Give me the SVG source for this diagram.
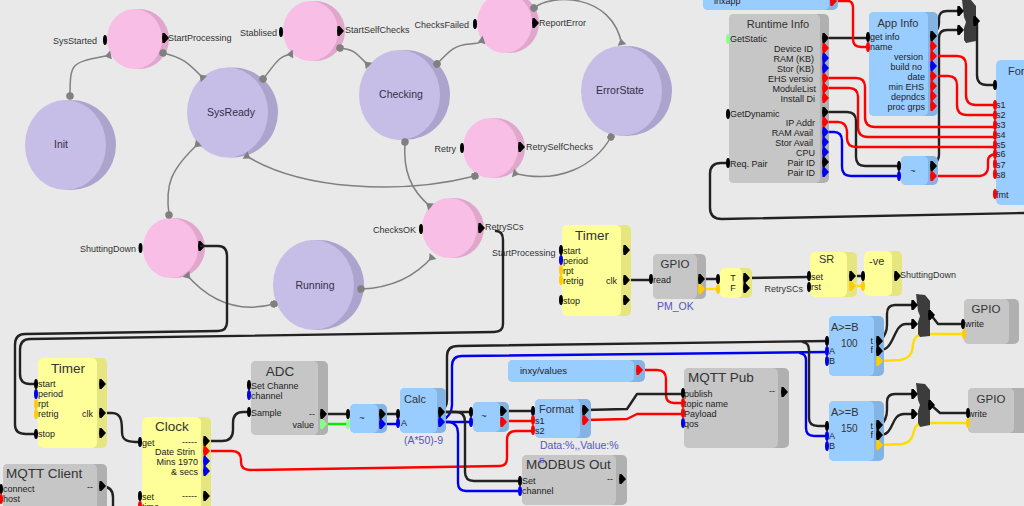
<svg xmlns="http://www.w3.org/2000/svg" xmlns:xlink="http://www.w3.org/1999/xlink" width="1024" height="506" viewBox="0 0 1024 506">
<defs>
<marker id="ball" viewBox="0 0 8 8" refX="4" refY="4" markerWidth="5" markerHeight="5" orient="auto"><circle cx="4" cy="4" r="4" fill="#808080"/></marker>
<marker id="tee" viewBox="0 0 10 10" refX="9" refY="5" markerWidth="6" markerHeight="6" orient="auto"><path d="M2 5L9 0V10Z" fill="#808080"/></marker>
<path id="o" d="M-2.5-5H-.5L4 0L-.5 5H-2.5Q-3.5 0-2.5-5Z"/>
<ellipse id="i" rx="2" ry="5"/>
</defs>
<style>
text{font-family:"Liberation Sans",Arial,sans-serif;fill:#333}
.s{font-size:9px}.t{font-size:13.5px}.m{font-size:11px}.n{font-size:9px;fill:#222}
.x{font-size:10.5px;text-anchor:middle;fill:#332f4a}
.e{text-anchor:end}.c{text-anchor:middle}.b{fill:#5555bb;font-size:10.5px}
.st{fill:none;stroke:#808080;stroke-width:1.5;marker-start:url(#ball);marker-end:url(#tee)}
.w{fill:none;stroke-width:2.4;stroke-linecap:round;stroke-linejoin:round}
.k{stroke:#222}.r{stroke:#f00}.u{stroke:#00e}.y{stroke:#fd0}.g{stroke:#0e0}
.p0{fill:#000}.pr{fill:#f00}.pu{fill:#00e}.py{fill:#fc0}.pg{fill:#8f8}
.bs{fill:#84b4e4}.bf{fill:#9cf}.gs{fill:#b0b0b0}.gf{fill:#c6c6c6}.ys{fill:#e6e680}.yf{fill:#ff9}
.ps{fill:#e0a6cc}.pf{fill:#f8bee6}.ls{fill:#aca4cd}.lf{fill:#c6bee6}
</style>
<rect width="1024" height="506" fill="#e9e9e9"/>
<g id="init"><circle class="ls" cx="71" cy="145" r="45"/><ellipse class="lf" cx="65.500" cy="145" rx="40.500" ry="45"/><text class="x" x="61" y="148">Init</text></g>
<g id="sysready"><circle class="ls" cx="233" cy="112.500" r="45"/><ellipse class="lf" cx="227.500" cy="112.500" rx="40.500" ry="45"/><text class="x" x="231" y="116">SysReady</text></g>
<g id="checking"><circle class="ls" cx="405" cy="95" r="45"/><ellipse class="lf" cx="399.500" cy="95" rx="40.500" ry="45"/><text class="x" x="401" y="98">Checking</text></g>
<g id="errorstate"><circle class="ls" cx="627" cy="91" r="45"/><ellipse class="lf" cx="621.500" cy="91" rx="40.500" ry="45"/><text class="x" x="620" y="94">ErrorState</text></g>
<g id="running"><circle class="ls" cx="319" cy="285" r="45"/><ellipse class="lf" cx="313.500" cy="285" rx="40.500" ry="45"/><text class="x" x="315" y="289">Running</text></g>
<g id="s1"><circle class="ps" cx="139" cy="39" r="30"/><ellipse class="pf" cx="134.500" cy="39" rx="27.500" ry="30"/><use href="#i" class="p0" x="105" y="40"/><use href="#o" class="p0" x="165" y="38"/><text class="s e" x="97" y="44">SysStarted</text><text class="s" x="168" y="41">StartProcessing</text></g>
<g id="s2"><circle class="ps" cx="315" cy="31" r="30"/><ellipse class="pf" cx="310.500" cy="31" rx="27.500" ry="30"/><use href="#i" class="p0" x="281" y="32"/><use href="#o" class="p0" x="340" y="31"/><text class="s e" x="277" y="36">Stablised</text><text class="s" x="345" y="33">StartSelfChecks</text></g>
<g id="s3"><circle class="ps" cx="509" cy="23" r="30"/><ellipse class="pf" cx="504.500" cy="23" rx="27.500" ry="30"/><use href="#i" class="p0" x="475" y="24"/><use href="#o" class="p0" x="535" y="23"/><text class="s e" x="469" y="28">ChecksFailed</text><text class="s" x="539" y="26">ReportError</text></g>
<g id="s4"><circle class="ps" cx="495" cy="148" r="30"/><ellipse class="pf" cx="490.500" cy="148" rx="27.500" ry="30"/><use href="#i" class="p0" x="462" y="148"/><use href="#o" class="p0" x="521" y="147"/><text class="s e" x="456" y="152">Retry</text><text class="s" x="526" y="150">RetrySelfChecks</text></g>
<g id="s5"><circle class="ps" cx="175" cy="248" r="30"/><ellipse class="pf" cx="170.500" cy="248" rx="27.500" ry="30"/><use href="#i" class="p0" x="140.500" y="248"/><use href="#o" class="p0" x="201" y="246"/><text class="s e" x="136" y="252">ShuttingDown</text></g>
<g id="s6"><circle class="ps" cx="454" cy="228" r="30"/><ellipse class="pf" cx="449.500" cy="228" rx="27.500" ry="30"/><use href="#i" class="p0" x="421" y="229"/><use href="#o" class="p0" x="481" y="228"/><text class="s e" x="416" y="233">ChecksOK</text><text class="s" x="485" y="230">RetrySCs</text><text class="s" x="492" y="256">StartProcessing</text></g>
<g id="state-connectors">
<path class="st" d="M70 96C70 60 72 63 111 55"/>
<path class="st" d="M163 53C185 58 190 65 204 79"/>
<path class="st" d="M263 79C275 65 278 55 293 54"/>
<path class="st" d="M340 48C355 50 355 52 369 66"/>
<path class="st" d="M437 64C450 50 455 45 470 44S478 42 484 40"/>
<path class="st" d="M534 8C550-6 612-8 622 45"/>
<path class="st" d="M611 137C595 165 560 185 513 173"/>
<path class="st" d="M475 176C400 195 300 190 245 155"/>
<path class="st" d="M405 142C403 170 410 190 431 207"/>
<path class="st" d="M361 289C390 288 415 277 433 256"/>
<path class="st" d="M274 304C240 313 210 302 186 274"/>
<path class="st" d="M169 215C165 185 170 170 199 143"/>
</g>
<g id="connectors">
<path class="w k" d="M201 246H218Q227 246 227 256V322Q227 331 218 331L25 334Q15 334 15 345V425Q15 434 26 434H36"/>
<path class="w k" d="M496 231Q503 231 503 240V324Q503 332 494 332L30 339Q20 339 20 350V374Q20 384 30 384H36"/>
<path class="w k" d="M102 413H112C122 413 122 423 122 432C122 441 128 442 140 442"/>
<path class="w k" d="M102 486Q113 487 113 497V506"/>
<path class="w k" d="M206 441H222Q233 441 233 430V423Q233 412 243 412H249"/>
<path class="w r" d="M206 451H232Q241 451 241 460V462Q241 470 250 470L500 466Q507 466 507 458V440Q507 431 516 431H533"/>
<path class="w k" d="M323 414H348"/><path class="w g" d="M323 424H348"/>
<path class="w k" d="M382 414H398"/><path class="w u" d="M382 424H398"/>
<path class="w k" d="M441 412H470"/><path class="w u" d="M441 422H470"/>
<path class="w k" d="M503 411H533"/><path class="w r" d="M503 421H533"/>
<path class="w k" d="M441 412Q447 407 447 400V356Q447 346 458 346L827 341"/>
<path class="w u" d="M441 422Q452 415 452 405V366Q452 356 462 356L827 352"/>
<path class="w k" d="M803 342Q809 343 809 350V418Q809 426 818 426H827"/>
<path class="w u" d="M800 353Q806 354 806 360V428Q806 436 814 436H827"/>
<path class="w k" d="M441 412H456Q465 412 465 422V472Q465 481 474 481H520"/>
<path class="w u" d="M441 422H450Q458 424 458 433V483Q458 491 466 491H520"/>
<path class="w r" d="M639 370H657Q666 370 666 379V395Q666 403 674 403H683"/>
<path class="w k" d="M585 410L627 409L637 394H683"/>
<path class="w r" d="M585 420L627 419L637 414H683"/>
<path class="w k" d="M626 280H651"/>
<path class="w k" d="M701 279H718"/><path class="w y" d="M701 289H718"/>
<path class="w k" d="M746 278L809 277"/>
<path class="w k" d="M852 276H863"/><path class="w y" d="M852 286H863"/>
<path class="w k" d="M880 341Q887 334 887 325V314Q887 305 895 305H913"/>
<path class="w k" d="M880 350C895 350 893 324 906 324H913"/>
<path class="w y" d="M879 361L900 360C912 358 913 350 913 344C914 338 918 334 924 334H964"/>
<path class="w k" d="M931 315L938 324H963"/>
<path class="w k" d="M880 426Q887 420 887 410V402Q887 394 895 394H913"/>
<path class="w k" d="M880 435C895 435 890 414 904 414H913"/>
<path class="w y" d="M879 445L902 444C912 442 913 435 914 431C915 426 918 423 924 423H968"/>
<path class="w k" d="M931 405L940 413H968"/>
<path class="w k" d="M825 38H868"/>
<path class="w r" d="M834 1H848Q853 1 853 8V39Q853 47 861 47H868"/>
<path class="w k" d="M933 35Q939 29 939 23V19Q939 11 947 11H960"/>
<path class="w k" d="M933 166Q939 160 939 155V38Q939 30 947 30H960"/>
<path class="w k" d="M977 22V75Q977 85 987 85H995"/>
<path class="w r" d="M933 56H957Q966 56 966 65V95Q966 105 976 105H995"/>
<path class="w r" d="M933 76H948Q957 76 957 85V105Q957 115 967 115H995"/>
<path class="w r" d="M825 78H856Q865 78 865 87V117Q865 127 875 127H995"/>
<path class="w r" d="M825 88H849Q858 88 858 97V127Q858 137 868 137H995"/>
<path class="w k" d="M825 112H847Q856 112 856 121V157Q856 166 865 166H900"/>
<path class="w r" d="M825 122H838Q846 122 847 131V138Q847 147 856 147H995"/>
<path class="w u" d="M825 132H834Q842 132 842 141V167Q842 176 851 176H900"/>
<path class="w r" d="M933 176H980Q988 175 988 167V161Q988 155 995 154"/>
<path class="w k" d="M728 163H721Q710 163 710 174V208Q710 219 722 219L1024 213"/>
</g>
<g id="timer1"><rect class="ys" x="562" y="225" width="69" height="91" rx="5"/><rect class="yf" x="562" y="225" width="59" height="91" rx="5"/><text class="t c" x="592" y="240">Timer</text><text class="n" x="563" y="254">start</text><text class="n" x="563" y="264">period</text><text class="n" x="563" y="274">rpt</text><text class="n" x="563" y="284">retrig</text><text class="n e" x="617" y="284">clk</text><text class="n" x="563" y="304">stop</text><use href="#i" class="p0" x="561" y="250"/><use href="#i" class="pu" x="561" y="260"/><use href="#i" class="py" x="561" y="270"/><use href="#i" class="py" x="561" y="280"/><use href="#i" class="p0" x="561" y="300"/><use href="#o" class="p0" x="626" y="250"/><use href="#o" class="p0" x="626" y="280"/><use href="#o" class="p0" x="626" y="300"/></g>
<g id="timer2"><rect class="ys" x="38" y="358" width="69" height="90" rx="5"/><rect class="yf" x="38" y="358" width="59" height="90" rx="5"/><text class="t c" x="68" y="373">Timer</text><text class="n" x="38" y="387">start</text><text class="n" x="38" y="397">period</text><text class="n" x="38" y="407">rpt</text><text class="n" x="38" y="417">retrig</text><text class="n e" x="93" y="417">clk</text><text class="n" x="38" y="437">stop</text><use href="#i" class="p0" x="36" y="384"/><use href="#i" class="pu" x="36" y="394"/><use href="#i" class="py" x="36" y="404"/><use href="#i" class="py" x="36" y="414"/><use href="#i" class="p0" x="36" y="434"/><use href="#o" class="p0" x="102" y="384"/><use href="#o" class="p0" x="102" y="413"/><use href="#o" class="p0" x="102" y="433"/></g>
<g id="clock"><rect class="ys" x="142" y="417" width="69" height="95" rx="5"/><rect class="yf" x="142" y="417" width="59" height="95" rx="5"/><text class="t c" x="172" y="431">Clock</text><text class="n" x="142" y="446">get</text><text class="n e" x="197" y="445">-----</text><text class="n e" x="195" y="455">Date Strin</text><text class="n e" x="198" y="465">Mins 1970</text><text class="n e" x="198" y="475">&amp; secs</text><text class="n" x="142" y="500">set</text><text class="n" x="142" y="510">time</text><text class="n e" x="197" y="499">-----</text><use href="#i" class="p0" x="140" y="442"/><use href="#i" class="p0" x="140" y="496"/><use href="#i" class="pr" x="140" y="506"/><use href="#o" class="p0" x="206" y="441"/><use href="#o" class="pr" x="206" y="451"/><use href="#o" class="pu" x="206" y="461"/><use href="#o" class="pu" x="206" y="471"/><use href="#o" class="p0" x="206" y="496"/></g>
<g id="mqttclient"><rect class="gs" x="3" y="464" width="104" height="48" rx="5"/><rect class="gf" x="3" y="464" width="94" height="48" rx="5"/><text class="t" x="6" y="478">MQTT Client</text><text class="n" x="3" y="492">connect</text><text class="n" x="3" y="502">host</text><text class="n e" x="93" y="490">--</text><use href="#i" class="p0" x="1" y="489"/><use href="#i" class="pr" x="1" y="499"/><use href="#o" class="p0" x="102" y="486"/></g>
<g id="adc"><rect class="gs" x="251" y="361" width="77" height="74" rx="5"/><rect class="gf" x="251" y="361" width="67" height="74" rx="5"/><text class="t c" x="280" y="376">ADC</text><text class="n" x="251" y="389">Set Channe</text><text class="n" x="251" y="399">channel</text><text class="n" x="251" y="416">Sample</text><text class="n e" x="315" y="417">--</text><text class="n e" x="314" y="428">value</text><use href="#i" class="p0" x="249" y="385"/><use href="#i" class="pu" x="249" y="395"/><use href="#i" class="p0" x="249" y="412"/><use href="#o" class="p0" x="323" y="414"/><use href="#o" class="pg" x="323" y="424"/></g>
<g id="t1"><rect class="bs" x="350" y="404" width="37" height="29" rx="5"/><rect class="bf" x="350" y="404" width="28" height="29" rx="5"/><text class="n c" x="362" y="421">~</text><use href="#i" class="p0" x="348" y="414"/><use href="#i" class="pg" x="348" y="424"/><use href="#o" class="p0" x="382" y="414"/><use href="#o" class="pu" x="382" y="424"/></g>
<g id="calc"><rect class="bs" x="400" y="388" width="46" height="45" rx="5"/><rect class="bf" x="400" y="388" width="37" height="45" rx="5"/><text class="m" x="404" y="403">Calc</text><text class="n" x="401" y="426">A</text><text class="b" x="404" y="444">(A*50)-9</text><use href="#i" class="p0" x="398" y="414"/><use href="#i" class="pu" x="398" y="423"/><use href="#o" class="p0" x="441" y="412"/><use href="#o" class="pu" x="441" y="422"/></g>
<g id="t2"><rect class="bs" x="473" y="402" width="36" height="30" rx="5"/><rect class="bf" x="473" y="402" width="27" height="30" rx="5"/><text class="n c" x="484" y="419">~</text><use href="#i" class="p0" x="471" y="412"/><use href="#i" class="pu" x="471" y="422"/><use href="#o" class="p0" x="503" y="411"/><use href="#o" class="pr" x="503" y="422"/></g>
<g id="format"><rect class="bs" x="535" y="399" width="56" height="39" rx="5"/><rect class="bf" x="535" y="399" width="45" height="39" rx="5"/><text class="m" x="539" y="413">Format</text><text class="n" x="535" y="424">s1</text><text class="n" x="535" y="434">s2</text><text class="b" x="540" y="449">Data:%,,Value:%</text><use href="#i" class="p0" x="533" y="411"/><use href="#i" class="pr" x="533" y="420"/><use href="#i" class="pr" x="533" y="430"/><use href="#o" class="p0" x="585" y="410"/><use href="#o" class="pr" x="585" y="420"/></g>
<g id="inxy"><rect class="bs" x="508" y="360" width="137" height="22" rx="5"/><rect class="bf" x="508" y="360" width="126" height="22" rx="5"/><text class="n" x="520" y="374" style="font-size:9.500px">inxy/values</text><use href="#o" class="pr" x="639" y="370"/></g>
<g id="mqttpub"><rect class="gs" x="684" y="368" width="105" height="80" rx="5"/><rect class="gf" x="684" y="368" width="94" height="80" rx="5"/><text class="t" x="688" y="382">MQTT Pub</text><text class="n" x="684" y="397">publish</text><text class="n" x="684" y="407">topic name</text><text class="n" x="684" y="417">Payload</text><text class="n" x="684" y="427">qos</text><text class="n e" x="775" y="394">--</text><use href="#i" class="p0" x="683" y="393"/><use href="#i" class="pr" x="683" y="403"/><use href="#i" class="pr" x="683" y="413"/><use href="#i" class="pu" x="683" y="423"/><use href="#o" class="p0" x="784" y="392"/></g>
<g id="modbus"><rect class="gs" x="522" y="455" width="105" height="50" rx="5"/><rect class="gf" x="522" y="455" width="94" height="50" rx="5"/><text class="t" x="526" y="469">MODBUS Out</text><text class="b" x="539" y="463" style="font-size:8px">S</text><text class="n" x="522" y="484">Set</text><text class="n" x="522" y="494">channel</text><text class="n e" x="613" y="482">--</text><use href="#i" class="p0" x="520" y="481"/><use href="#i" class="pu" x="520" y="491"/><use href="#o" class="p0" x="622" y="479"/></g>
<g id="gpio1"><rect class="gs" x="653" y="254" width="53" height="45" rx="5"/><rect class="gf" x="653" y="254" width="44" height="45" rx="5"/><text class="m c" x="675" y="268" style="font-size:11.500px">GPIO</text><text class="n" x="653" y="283">read</text><text class="b" x="657" y="310">PM_OK</text><use href="#i" class="p0" x="651" y="279"/><use href="#o" class="p0" x="701" y="279"/><use href="#o" class="py" x="701" y="289"/></g>
<g id="tf"><rect class="ys" x="720" y="268" width="32" height="30" rx="5"/><rect class="yf" x="720" y="268" width="22" height="30" rx="5"/><text class="n c" x="733" y="281">T</text><text class="n c" x="733" y="291">F</text><use href="#i" class="p0" x="718" y="279"/><use href="#i" class="py" x="718" y="289"/><use href="#o" class="p0" x="746" y="278"/><use href="#o" class="p0" x="746" y="288"/></g>
<g id="sr"><rect class="ys" x="810" y="252" width="47" height="45" rx="5"/><rect class="yf" x="810" y="252" width="37" height="45" rx="5"/><text class="m" x="819" y="263">SR</text><text class="n" x="811" y="280">set</text><text class="n" x="811" y="290">rst</text><text class="s e" x="803" y="292">RetrySCs</text><use href="#i" class="p0" x="809" y="276"/><use href="#i" class="p0" x="809" y="287"/><use href="#o" class="p0" x="852" y="276"/><use href="#o" class="py" x="852" y="286"/></g>
<g id="neg"><rect class="ys" x="864" y="251" width="38" height="45" rx="5"/><rect class="yf" x="864" y="251" width="28" height="45" rx="5"/><text class="m" x="869" y="265">-ve</text><text class="s" x="900" y="278">ShuttingDown</text><use href="#i" class="p0" x="863" y="276"/><use href="#i" class="py" x="863" y="286"/><use href="#o" class="p0" x="897" y="276"/></g>
<g id="cmp1"><rect class="bs" x="829" y="316" width="55" height="60" rx="5"/><rect class="bf" x="829" y="316" width="45" height="60" rx="5"/><text class="m" x="831" y="331">A&gt;=B</text><text class="m" x="841" y="347" style="font-size:10px">100</text><text class="n" x="829" y="354">A</text><text class="n" x="829" y="364">B</text><text class="n e" x="873" y="344">t</text><text class="n e" x="873" y="353">f</text><use href="#i" class="p0" x="827" y="341"/><use href="#i" class="pu" x="827" y="351"/><use href="#i" class="pu" x="827" y="361"/><use href="#o" class="p0" x="879" y="341"/><use href="#o" class="p0" x="879" y="351"/><use href="#o" class="py" x="879" y="361"/></g>
<g id="cmp2"><rect class="bs" x="829" y="401" width="55" height="60" rx="5"/><rect class="bf" x="829" y="401" width="45" height="60" rx="5"/><text class="m" x="831" y="416">A&gt;=B</text><text class="m" x="841" y="432" style="font-size:10px">150</text><text class="n" x="829" y="439">A</text><text class="n" x="829" y="449">B</text><text class="n e" x="873" y="429">t</text><text class="n e" x="873" y="438">f</text><use href="#i" class="p0" x="827" y="426"/><use href="#i" class="pu" x="827" y="436"/><use href="#i" class="pu" x="827" y="446"/><use href="#o" class="p0" x="879" y="425"/><use href="#o" class="p0" x="879" y="435"/><use href="#o" class="py" x="879" y="445"/></g>
<g id="mux1"><path d="M916 294L925 295L930 301V336L920 337L918 334V322L920 316L918 311Z" fill="#3c3c3c"/><use href="#o" class="p0" x="914" y="305"/><use href="#o" class="p0" x="914" y="324"/><use href="#o" class="p0" x="931" y="315"/></g>
<g id="mux2"><path d="M916 383L925 384L930 390V425L920 427L918 423V411L920 405L918 400Z" fill="#3c3c3c"/><use href="#o" class="p0" x="914" y="394"/><use href="#o" class="p0" x="914" y="414"/><use href="#o" class="p0" x="931" y="405"/></g>
<g id="mux3"><path d="M962 0H971L976 6V41L966 43L964 40V28L966 22L964 17Z" fill="#3c3c3c"/><use href="#o" class="p0" x="960" y="11"/><use href="#o" class="p0" x="960" y="30"/><use href="#o" class="p0" x="976" y="21"/></g>
<g id="gpio2"><rect class="gs" x="964" y="299" width="55" height="45" rx="5"/><rect class="gf" x="964" y="299" width="45" height="45" rx="5"/><text class="m c" x="986" y="313" style="font-size:11.500px">GPIO</text><text class="n" x="965" y="327">write</text><use href="#i" class="p0" x="963" y="324"/><use href="#i" class="py" x="964" y="334"/></g>
<g id="gpio3"><rect class="gs" x="968" y="388" width="60" height="45" rx="5"/><rect class="gf" x="968" y="388" width="46" height="45" rx="5"/><text class="m c" x="991" y="403" style="font-size:11.500px">GPIO</text><text class="n" x="968" y="417">write</text><use href="#i" class="p0" x="968" y="413"/><use href="#i" class="py" x="968" y="423"/></g>
<g id="inxapp"><rect class="bs" x="703" y="-20" width="135" height="30" rx="5"/><rect class="bf" x="703" y="-20" width="126" height="30" rx="5"/><text class="n" x="714" y="4">inxapp</text><use href="#o" class="pr" x="833" y="1"/></g>
<g id="runtime"><rect class="gs" x="729" y="14" width="100" height="169" rx="5"/><rect class="gf" x="729" y="14" width="91" height="169" rx="5"/><text class="m c" x="778" y="28">Runtime Info</text><text class="n" x="730" y="42">GetStatic</text><text class="n e" x="813" y="52">Device ID</text><text class="n e" x="814" y="62">RAM (KB)</text><text class="n e" x="814" y="72">Stor (KB)</text><text class="n e" x="813" y="82">EHS versio</text><text class="n e" x="816" y="92">ModuleList</text><text class="n e" x="815" y="102">Install Di</text><text class="n" x="730" y="117">GetDynamic</text><text class="n e" x="815" y="126">IP Addr</text><text class="n e" x="813" y="136">RAM Avail</text><text class="n e" x="813" y="146">Stor Avail</text><text class="n e" x="815" y="156">CPU</text><text class="n e" x="815" y="166">Pair ID</text><text class="n e" x="815" y="176">Pair ID</text><text class="n" x="730" y="167">Req. Pair</text><use href="#i" class="pg" x="728" y="39"/><use href="#i" class="p0" x="728" y="114"/><use href="#i" class="p0" x="728" y="163"/><use href="#o" class="p0" x="825" y="38"/><use href="#o" class="pr" x="825" y="48"/><use href="#o" class="pu" x="825" y="58"/><use href="#o" class="pu" x="825" y="68"/><use href="#o" class="pr" x="825" y="78"/><use href="#o" class="pr" x="825" y="88"/><use href="#o" class="pr" x="825" y="98"/><use href="#o" class="p0" x="825" y="112"/><use href="#o" class="pr" x="825" y="122"/><use href="#o" class="pu" x="825" y="132"/><use href="#o" class="pu" x="825" y="142"/><use href="#o" class="pu" x="825" y="152"/><use href="#o" class="p0" x="825" y="162"/><use href="#o" class="pu" x="825" y="172"/></g>
<g id="appinfo"><rect class="bs" x="869" y="12" width="69" height="104" rx="5"/><rect class="bf" x="869" y="12" width="59" height="104" rx="5"/><text class="m c" x="898" y="27">App Info</text><text class="n" x="870" y="40">get info</text><text class="n" x="870" y="50">name</text><text class="n e" x="923" y="60">version</text><text class="n e" x="922" y="70">build no</text><text class="n e" x="925" y="80">date</text><text class="n e" x="924" y="90">min EHS</text><text class="n e" x="925" y="100">depndcs</text><text class="n e" x="925" y="110">proc grps</text><use href="#i" class="p0" x="868" y="37"/><use href="#i" class="pr" x="868" y="47"/><use href="#o" class="p0" x="933" y="36"/><use href="#o" class="pr" x="933" y="46"/><use href="#o" class="pr" x="933" y="56"/><use href="#o" class="pu" x="933" y="66"/><use href="#o" class="pr" x="933" y="76"/><use href="#o" class="pr" x="933" y="86"/><use href="#o" class="pr" x="933" y="96"/><use href="#o" class="pr" x="933" y="106"/></g>
<g id="t3"><rect class="bs" x="901" y="156" width="37" height="29" rx="5"/><rect class="bf" x="901" y="156" width="27" height="29" rx="5"/><text class="n c" x="913" y="174">~</text><use href="#i" class="p0" x="899" y="166"/><use href="#i" class="pu" x="899" y="176"/><use href="#o" class="p0" x="933" y="166"/><use href="#o" class="pr" x="933" y="176"/></g>
<g id="for"><rect class="bf" x="996" y="60" width="40" height="145" rx="5"/><text class="m" x="1008" y="75">For</text><text class="n" x="996" y="108">s1</text><text class="n" x="996" y="118">s2</text><text class="n" x="996" y="128">s3</text><text class="n" x="996" y="138">s4</text><text class="n" x="996" y="148">s5</text><text class="n" x="996" y="157">s6</text><text class="n" x="996" y="168">s7</text><text class="n" x="996" y="178">s8</text><text class="n" x="996" y="198">fmt</text><use href="#i" class="p0" x="995" y="85"/><use href="#i" class="pr" x="995" y="105"/><use href="#i" class="pr" x="995" y="115"/><use href="#i" class="pr" x="995" y="125"/><use href="#i" class="pr" x="995" y="135"/><use href="#i" class="pr" x="995" y="145"/><use href="#i" class="pr" x="995" y="154"/><use href="#i" class="pr" x="995" y="164"/><use href="#i" class="pr" x="995" y="174"/><use href="#i" class="pr" x="995" y="194"/></g>
</svg>
